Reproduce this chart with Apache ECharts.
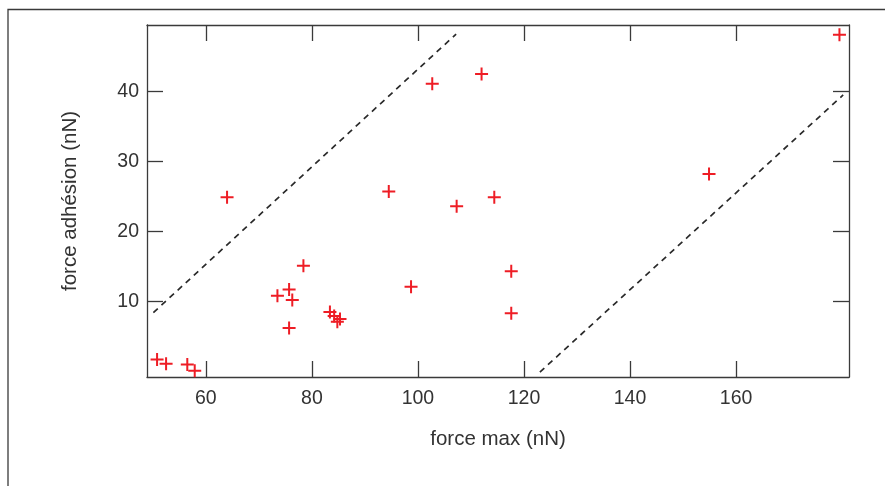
<!DOCTYPE html>
<html>
<head>
<meta charset="utf-8">
<script src="https://cdn.jsdelivr.net/npm/echarts@6.0.0/dist/echarts.min.js"></script>
<style>html,body{margin:0;padding:0;background:#fff}#c{width:885px;height:486px}</style>
</head>
<body>
<div id="c"></div>
<script>
const forceMax = [50.8, 52.5, 56.5, 57.9, 64.0, 73.5, 75.7, 76.3, 75.7, 78.4, 83.4, 84.2, 85.3, 84.8, 94.5, 98.7, 102.7, 107.3, 112.0, 114.4, 117.6, 117.6, 154.9, 179.5];
const forceAdhesion = [1.7, 1.1, 1.0, 0.1, 24.9, 10.8, 11.7, 10.2, 6.2, 15.1, 8.5, 7.9, 7.5, 7.1, 25.7, 12.1, 41.1, 23.6, 42.5, 24.9, 14.3, 8.3, 28.2, 48.1];
const upperBound = [[50.1, 8.4], [107.2, 48.2]];
const lowerBound = [[123.0, -0.1], [180.2, 39.5]];
const xTicks = [60, 80, 100, 120, 140, 160];
const yTicks = [10, 20, 30, 40];
const xName = 'force max (nN)';
const yName = 'force adhésion (nN)';

const points = forceMax.map((x, i) => [x, forceAdhesion[i]]);
const axisColor = '#3a3a3a';
const font = 'Liberation Sans';
const plus = 'path://M0,5.5H5.5V0H7.5V5.5H13V7.5H7.5V13H5.5V7.5H0Z';

function xAx(pos, labels) {
  return {
    type: 'value', position: pos, min: 48.9, max: 181.3,
    name: labels ? xName : '', nameLocation: 'middle', nameGap: 52,
    nameTextStyle: {fontFamily: font, fontSize: 20.5, color: '#333'},
    axisLine: {show: true, onZero: false, lineStyle: {color: axisColor, width: 1.3}},
    axisTick: {show: true, inside: true, length: 16, customValues: xTicks, lineStyle: {color: axisColor, width: 1.3}},
    axisLabel: {show: labels, customValues: xTicks, margin: 12, fontFamily: font, fontSize: 19.5, color: '#333'},
    splitLine: {show: false}
  };
}
function yAx(pos, labels) {
  return {
    type: 'value', position: pos, min: -0.8, max: 49.5,
    name: labels ? yName : '', nameLocation: 'middle', nameGap: 66, nameRotate: 90,
    nameTextStyle: {fontFamily: font, fontSize: 20.5, color: '#333'},
    axisLine: {show: true, onZero: false, lineStyle: {color: axisColor, width: 1.3}},
    axisTick: {show: true, inside: true, length: 16, customValues: yTicks, lineStyle: {color: axisColor, width: 1.3}},
    axisLabel: {show: labels, customValues: yTicks, margin: 8, fontFamily: font, fontSize: 19.5, color: '#333'},
    splitLine: {show: false}
  };
}

const chart = echarts.init(document.getElementById('c'), null, {renderer: 'canvas'});
chart.setOption({
  animation: false,
  backgroundColor: '#fff',
  grid: {left: 147, right: 36, top: 25, bottom: 109, containLabel: false},
  graphic: [{
    type: 'rect', shape: {x: 8, y: 9.5, width: 1000, height: 1000},
    style: {fill: 'none', stroke: axisColor, lineWidth: 1.3}, silent: true
  }],
  xAxis: [xAx('bottom', true), xAx('top', false)],
  yAxis: [yAx('left', true), yAx('right', false)],
  series: [
    {type: 'line', data: upperBound, symbol: 'none', xAxisIndex: 0, yAxisIndex: 0,
     lineStyle: {color: '#2a2a2a', width: 1.7, type: [6, 5]}},
    {type: 'line', data: lowerBound, symbol: 'none', xAxisIndex: 0, yAxisIndex: 0,
     lineStyle: {color: '#2a2a2a', width: 1.7, type: [6, 5]}},
    {type: 'scatter', data: points, symbol: plus, symbolSize: 13, xAxisIndex: 0, yAxisIndex: 0,
     itemStyle: {color: '#ee1d25', opacity: 1}}
  ]
});
</script>
</body>
</html>
